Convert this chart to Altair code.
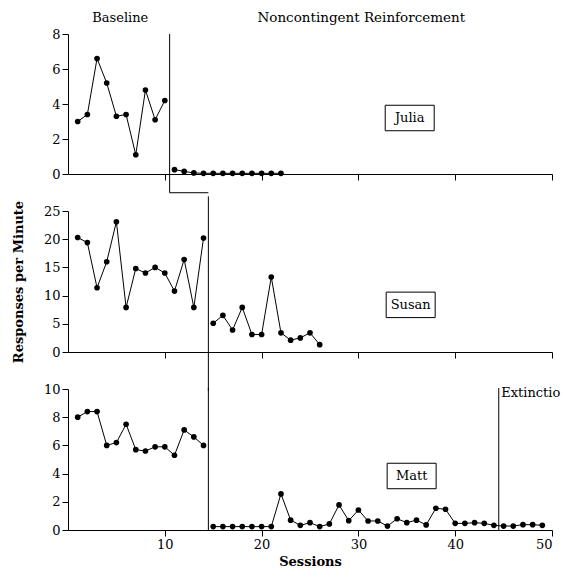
import altair as alt
import pandas as pd

FONT = "DejaVu Serif"

# ---- data ----
julia_base = [3.0, 3.4, 6.6, 5.2, 3.3, 3.4, 1.1, 4.8, 3.1, 4.2]          # sessions 1-10
julia_ncr = [0.25, 0.15, 0.06, 0.04, 0.04, 0.04, 0.04, 0.04, 0.04, 0.04, 0.04, 0.04]  # 11-22

susan_base = [20.3, 19.4, 11.4, 16.0, 23.1, 7.9, 14.8, 14.0, 15.0, 14.0, 10.8, 16.4, 7.9, 20.2]  # 1-14
susan_ncr = [5.1, 6.5, 3.9, 7.9, 3.1, 3.1, 13.3, 3.4, 2.1, 2.5, 3.4, 1.3]  # 15-26

matt_base = [8.0, 8.4, 8.4, 6.0, 6.2, 7.5, 5.7, 5.6, 5.9, 5.9, 5.3, 7.1, 6.6, 6.0]  # 1-14
matt_ncr = [0.24, 0.24, 0.24, 0.24, 0.24, 0.24, 0.24, 2.56, 0.7, 0.33, 0.52, 0.24,
            0.43, 1.78, 0.66, 1.42, 0.64, 0.64, 0.28, 0.8, 0.52, 0.7, 0.36, 1.54,
            1.47, 0.47, 0.47, 0.52, 0.47, 0.33]  # 15-44
matt_ext = [0.28, 0.28, 0.38, 0.38, 0.33]  # 45-49

x_ticks = [10, 20, 30, 40, 50]
phase_labels = ["Baseline", "Noncontingent Reinforcement"]
phase_label_x = [5.4, 30.3]


def series_df(base, treat):
    rows = []
    for i, v in enumerate(base):
        rows.append({"session": i + 1, "value": v, "seg": "base"})
    start = len(base) + 1
    for i, v in enumerate(treat):
        rows.append({"session": start + i, "value": v, "seg": "treat"})
    return pd.DataFrame(rows)


def panel(base, treat, ymax, ystep, height, name, name_xy, bottom, y_title,
          rules, texts):
    df = series_df(base, treat)
    xenc = alt.X("session:Q",
                 scale=alt.Scale(domain=[0, 50], nice=False, zero=False),
                 axis=alt.Axis(values=x_ticks, labels=bottom,
                               title="Sessions" if bottom else None,
                               titlePadding=4))
    yaxis = alt.Axis(values=list(range(0, ymax + 1, ystep)),
                     title=y_title if y_title else None,
                     titlePadding=18)
    yenc = alt.Y("value:Q", scale=alt.Scale(domain=[0, ymax], nice=False),
                 axis=yaxis)

    line = alt.Chart(df).mark_line(color="black", strokeWidth=1).encode(
        x=xenc, y=yenc, detail="seg:N")
    pts = alt.Chart(df).mark_point(filled=True, color="black", size=32,
                                   opacity=1).encode(x=xenc, y=yenc)

    rdf = pd.DataFrame(rules, columns=["session", "value", "session2", "value2"])
    rule = alt.Chart(rdf).mark_rule(color="black", strokeWidth=1).encode(
        x=xenc, y=yenc, x2="session2:Q", y2="value2:Q")

    ndf = pd.DataFrame([{"session": name_xy[0], "value": name_xy[1], "label": name}])
    box = alt.Chart(ndf).mark_point(
        shape="M-1,-0.52H1V0.52H-1Z", size=2400, filled=True, fill="white",
        stroke="black", strokeWidth=1, opacity=1).encode(x=xenc, y=yenc)
    ntext = alt.Chart(ndf).mark_text(font=FONT, fontSize=13, color="black").encode(
        x=xenc, y=yenc, text="label:N")

    layers = [line, pts, rule, box, ntext]
    for t in texts:
        tdf = pd.DataFrame([{"session": t[0], "value": t[1], "label": t[2]}])
        props = dict(font=FONT, fontSize=13, color="black", align=t[3])
        if len(t) > 4:
            props.update(t[4])
        layers.append(alt.Chart(tdf).mark_text(**props).encode(
            x=xenc, y=yenc, text="label:N"))

    return alt.layer(*layers).properties(width=484, height=height)


top = panel(julia_base, julia_ncr, 8, 2, 140, "Julia", (35.3, 3.2), False, None,
            rules=[(10.5, 8.0, 10.5, -1.07), (10.5, -1.07, 14.5, -1.07)],
            texts=[(phase_label_x[0], 8.91, phase_labels[0], "center"),
                   (phase_label_x[1], 8.91, phase_labels[1], "center",
                    {"fontSize": 13.5})])

mid = panel(susan_base, susan_ncr, 25, 5, 141, "Susan", (35.4, 8.36), False,
            "Responses per Minute",
            rules=[(14.5, 27.6, 14.5, -6.9)],
            texts=[])

bot = panel(matt_base, matt_ncr + matt_ext, 10, 2, 141, "Matt", (35.5, 3.83), True,
            None,
            rules=[(14.5, 10.1, 14.5, 0.0), (44.5, 10.07, 44.5, 0.0)],
            texts=[(44.75, 9.7, "Extinction", "left",
                    {"limit": 62, "ellipsis": "\u200b"})])

chart = alt.vconcat(top, mid, bot, spacing=37, bounds="flush").properties(
    padding={"left": 12, "top": 11, "right": 0, "bottom": 0},
    background="white",
).configure_view(stroke=None).configure_axis(
    grid=False, domainColor="black", tickColor="black", labelColor="black",
    titleColor="black", labelFont=FONT, titleFont=FONT, labelFontSize=13,
    titleFontSize=13, titleFontWeight="bold", tickSize=6, labelPadding=2,
    domainWidth=1, tickWidth=1,
)

chart.save("out.html", embed_options={"renderer": "svg", "actions": False})
